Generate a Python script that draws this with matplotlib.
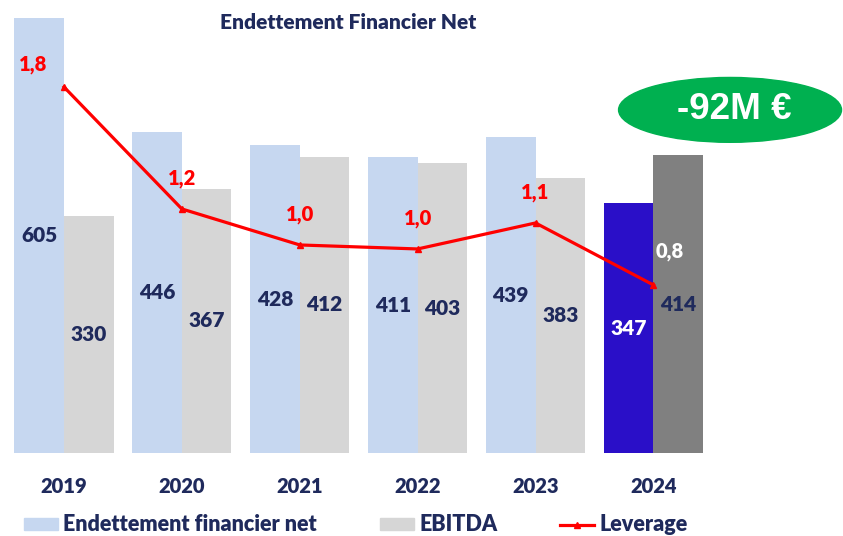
import matplotlib.pyplot as plt
import numpy as np
from matplotlib.patches import Ellipse, Patch
from matplotlib.lines import Line2D

years = ["2019", "2020", "2021", "2022", "2023", "2024"]
dette = [605, 446, 428, 411, 439, 347]
ebitda = [330, 367, 412, 403, 383, 414]
leverage = [1.83, 1.22, 1.04, 1.02, 1.15, 0.84]
leverage_labels = ["1,8", "1,2", "1,0", "1,0", "1,1", "0,8"]

navy = "#1f2a5c"
c_dette = ["#c6d7f0"] * 5 + ["#2a0fc8"]
c_ebitda = ["#d6d6d6"] * 5 + ["#808080"]
font = ["Lato", "DejaVu Sans"]
wt = "heavy"

fig = plt.figure(figsize=(8.43, 5.36), dpi=100)
ax = fig.add_axes([0.006, 0.155, 0.839, 0.845])
ax2 = ax.twinx()

x = np.arange(len(years))
w = 0.42
ax.bar(x - w / 2, dette, w, color=c_dette)
ax.bar(x + w / 2, ebitda, w, color=c_ebitda)

for i in range(len(years)):
    ax.text(x[i] - w / 2, dette[i] / 2, str(dette[i]), ha="center", va="center",
            fontsize=15, fontweight=wt, family=font,
            color="white" if i == len(years) - 1 else navy)
    ax.text(x[i] + w / 2, ebitda[i] / 2, str(ebitda[i]), ha="center", va="center",
            fontsize=15, fontweight=wt, family=font, color=navy)

ax.set_xlim(-0.5, len(years) - 0.5)
ax.set_ylim(0, 630)
ax.set_xticks(x)
ax.set_xticklabels(years, fontsize=14.5, fontweight=wt, family=font, color=navy)
ax.tick_params(axis="x", length=0, pad=17)
ax.set_yticks([])
for s in ax.spines.values():
    s.set_visible(False)

ax2.plot(x, leverage, color="red", lw=2.3, marker="^", ms=4)
ax2.set_ylim(0, 2.265)
ax2.set_yticks([])
for s in ax2.spines.values():
    s.set_visible(False)

offsets = {0: (-22, 16), len(years) - 1: (12, 24)}
for i, lab in enumerate(leverage_labels):
    dx, dy = offsets.get(i, (0, 22))
    ax2.annotate(lab, (x[i], leverage[i]), xytext=(dx, dy), textcoords="offset points",
                 ha="center", va="center", fontsize=14.5, fontweight=wt, family=font,
                 color="white" if i == len(years) - 1 else "red")

fig.text(0.413, 0.958, "Endettement Financier Net", ha="center", va="center",
         fontsize=15, fontweight=wt, family=font, color=navy)

ell = Ellipse((0.866, 0.795), 0.2645, 0.121, transform=fig.transFigure,
              color="#00b050", zorder=5)
fig.patches.append(ell)
fig.text(0.871, 0.795, "-92M \u20ac", ha="center", va="center", fontsize=26.5,
         fontweight="bold", family=["Liberation Sans", "DejaVu Sans"], color="white", zorder=6)

handles = [Patch(color="#c6d7f0"), Patch(color="#d6d6d6"),
           Line2D([], [], color="red", lw=2.3, marker="^", ms=4)]
labels = ["Endettement financier net", "EBITDA", "Leverage"]
leg = fig.legend(handles, labels, loc="lower left", bbox_to_anchor=(0.005, -0.035), ncol=3,
                 frameon=False, columnspacing=2.9, handlelength=1.6, handleheight=0.45,
                 handletextpad=0.25, prop={"family": font, "weight": wt, "size": 15.5})
for t in leg.get_texts():
    t.set_color(navy)

fig.savefig("out.png", dpi=100)
